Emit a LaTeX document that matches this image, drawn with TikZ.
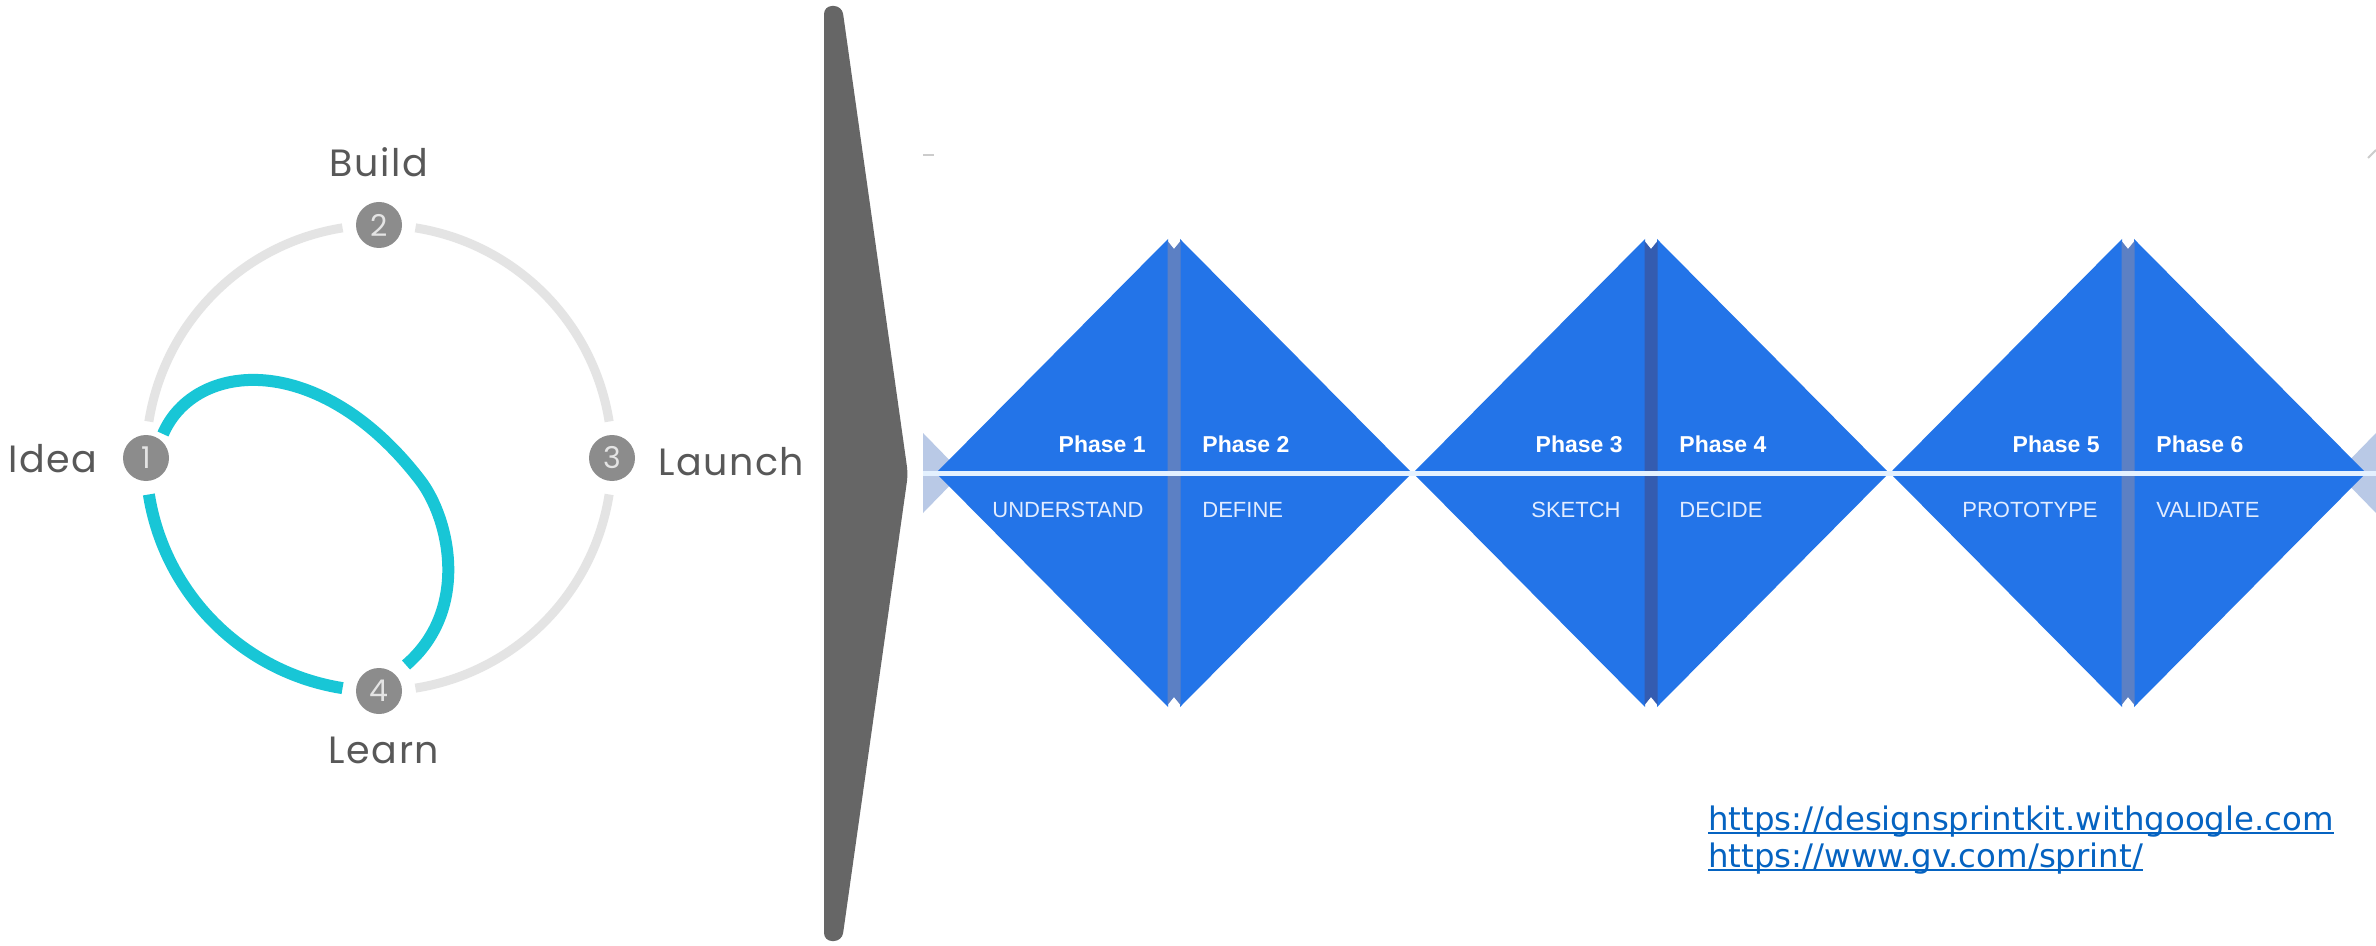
\documentclass[tikz,border=0pt]{standalone}
\usepackage{fontspec}
\newfontfamily\roundfont[LetterSpace=4.0]{Poppins}
\newfontfamily\digitfont{Poppins}
\newfontfamily\phasefont{Liberation Sans}
\newfontfamily\linkfont{DejaVu Sans}
\usetikzlibrary{calc}
\definecolor{trackgrey}{RGB}{228,228,228}
\definecolor{loopcyan}{RGB}{24,198,214}
\definecolor{dotgrey}{RGB}{140,140,140}
\definecolor{dottext}{RGB}{228,228,228}
\definecolor{lblgrey}{RGB}{88,88,88}
\definecolor{arrowgrey}{RGB}{102,102,102}
\definecolor{sprintblue}{RGB}{35,116,232}
\definecolor{stripgrey}{RGB}{92,128,196}
\definecolor{stripdark}{RGB}{52,92,176}
\definecolor{stubblue}{RGB}{185,201,230}
\definecolor{midwhite}{RGB}{228,241,255}
\definecolor{lowtext}{RGB}{226,236,255}
\definecolor{linkblue}{RGB}{5,99,193}
\tikzset{
  track/.style={trackgrey, line width=4.5pt},
  loopline/.style={loopcyan, line width=6pt},
  dot/.style={circle, fill=dotgrey, minimum size=23pt, inner sep=0pt, text=dottext,
    font=\digitfont\fontsize{15pt}{15pt}\selectfont},
  lbl/.style={text=lblgrey, inner sep=0pt, font=\roundfont\fontsize{19pt}{22pt}\selectfont},
  phasetop/.style={text=white, inner sep=0pt, font=\phasefont\bfseries\fontsize{11.5pt}{13pt}\selectfont},
  phaselow/.style={text=lowtext, inner sep=0pt, font=\phasefont\fontsize{11pt}{13pt}\selectfont},
  link/.style={text=linkblue, inner sep=0pt, font=\linkfont\fontsize{16.2pt}{18.5pt}\selectfont},
  uline/.style={linkblue, line width=1.2pt},
  tick/.style={black!20, line width=1pt}
}
\begin{document}
\begin{tikzpicture}[x=0.5pt, y=-0.5pt]
  \useasboundingbox (0,0) rectangle (2376,946);
  \fill[white] (0,0) rectangle (2376,946);
  % cycle: idea, build, launch, learn
  \coordinate (hub) at (379,458);
  \node[dot] (n1) at (146,458) {1};
  \node[dot] (n2) at (379,225) {2};
  \node[dot] (n3) at (612,458) {3};
  \node[dot] (n4) at (379,691) {4};
  \draw[track] (hub) ++(189:233) arc[start angle=189, end angle=261, radius=233];
  \draw[track] (hub) ++(279:233) arc[start angle=279, end angle=351, radius=233];
  \draw[track] (hub) ++(9:233) arc[start angle=9, end angle=81, radius=233];
  \draw[loopline] (hub) ++(99:233) arc[start angle=99, end angle=171, radius=233];
  \draw[loopline] ($(n1)+(17,-24)$) .. controls (195,360) and (320,350) .. (420,480)
    .. controls (450,519) and (470,610) .. ($(n4)+(27,-26)$);
  \node[lbl, anchor=base] (build) at (379,177) {Build};
  \node[lbl, anchor=base east] (idea) at (98,473) {Idea};
  \node[lbl, anchor=base west] (launch) at (658,475) {Launch};
  \node[lbl, anchor=base] (learn) at (384,763) {Learn};
  % big grey arrow
  \fill[arrowgrey, rounded corners=4pt] (824,6) -- (842,6) -- (908,474) -- (842,941) -- (824,941) -- cycle;
  % design sprint phases
  \draw[tick] (923,155) -- (934,155);
  \draw[tick] (2368,158) -- (2376,150);
  \fill[stubblue] (923,433) -- (962,473) -- (923,513) -- cycle;
  \fill[stubblue] (2376,433) -- (2337,473) -- (2376,513) -- cycle;
  \foreach \c/\sc in {1174/stripgrey, 1651/stripdark, 2128/stripgrey} {
    \fill[sprintblue] (\c-238,473) -- (\c-6,239) -- (\c-6,707) -- cycle;
    \fill[sprintblue] (\c+238,473) -- (\c+6,239) -- (\c+6,707) -- cycle;
    \fill[\sc] (\c-6.5,241) -- (\c,249) -- (\c+6.5,241) -- (\c+6.5,705) -- (\c,697) -- (\c-6.5,705) -- cycle;
  }
  \draw[midwhite, line width=2.5pt] (923,473) -- (2376,473);
  \foreach \c/\i/\j/\lt/\rt in {1174/1/2/UNDERSTAND/DEFINE,
      1651/3/4/SKETCH/DECIDE, 2128/5/6/PROTOTYPE/VALIDATE} {
    \node[phasetop, anchor=base east] (ph\i) at (\c-28,452) {Phase \i};
    \node[phasetop, anchor=base west] (ph\j) at (\c+28,452) {Phase \j};
    \node[phaselow, anchor=base east] (low\i) at (\c-30,517) {\lt};
    \node[phaselow, anchor=base west] (low\j) at (\c+28,517) {\rt};
  }
  % links
  \node[link, anchor=base west] (url1) at (1708,830) {https://designsprintkit.withgoogle.com};
  \node[link, anchor=base west] (url2) at (1708,867) {https://www.gv.com/sprint/};
  \draw[uline] ([yshift=-1.6pt]url1.base west) -- ([yshift=-1.6pt]url1.base east);
  \draw[uline] ([yshift=-1.6pt]url2.base west) -- ([yshift=-1.6pt]url2.base east);
\end{tikzpicture}
\end{document}
